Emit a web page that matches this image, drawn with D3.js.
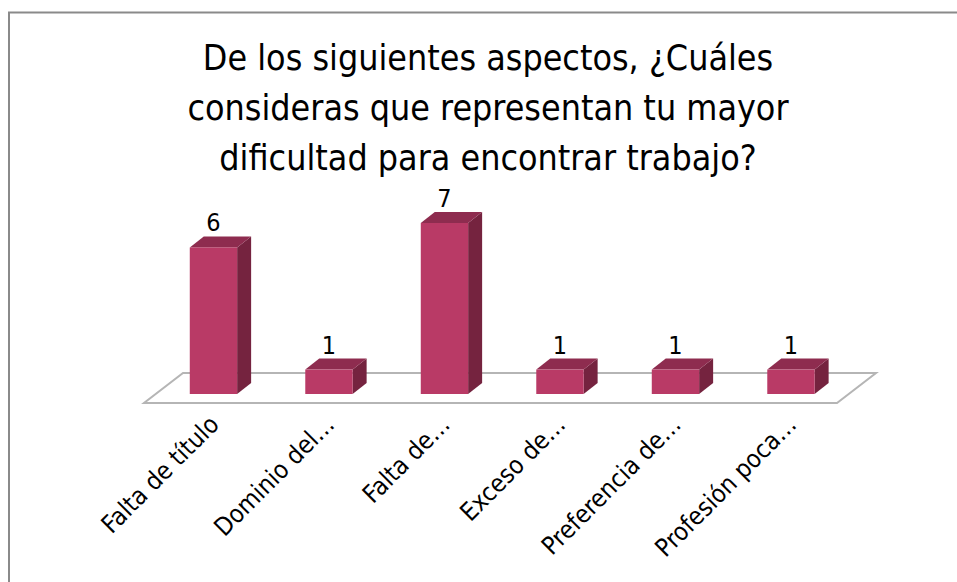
<!DOCTYPE html>
<html>
<head>
<meta charset="utf-8">
<script src="https://cdn.jsdelivr.net/npm/d3@7"></script>
<style>
  body { margin: 0; background: #fff; }
  text { font-family: "DejaVu Sans Condensed", "DejaVu Sans", sans-serif; fill: #000; }
</style>
</head>
<body>
<svg id="chart" width="957" height="582"></svg>
<script>
const titleLines = [
  'De los siguientes aspectos, ¿Cuáles',
  'consideras que representan tu mayor',
  'dificultad para encontrar trabajo?'
];
const categories = ['Falta de título', 'Dominio del…', 'Falta de…', 'Exceso de…', 'Preferencia de…', 'Profesión poca…'];
const values = [6, 1, 7, 1, 1, 1];

const svg = d3.select('#chart');

// outer frame (right and bottom edges fall outside the picture)
svg.append('rect')
  .attr('x', 9).attr('y', 12.5)
  .attr('width', 960).attr('height', 600)
  .attr('fill', 'none')
  .attr('stroke', '#8a8a8a')
  .attr('stroke-width', 2);

svg.append('text')
  .attr('text-anchor', 'middle')
  .attr('font-size', 35.5)
  .selectAll('tspan')
  .data(titleLines)
  .join('tspan')
  .attr('x', 488)
  .attr('y', (d, i) => 70 + i * 50)
  .text(d => d);

// floor geometry
const floorFront = [144, 837];
const floorY = 403;
const floorDepth = [39, -30];
const barShift = 0.3; // bars stand 30% into the floor depth
const barDepth = [14, -11];

const x = d3.scaleBand()
  .domain(categories)
  .range([floorFront[0] + floorDepth[0] * barShift, floorFront[1] + floorDepth[0] * barShift])
  .paddingInner(0.59)
  .paddingOuter(0.295);

const y0 = floorY + floorDepth[1] * barShift;
const y = d3.scaleLinear()
  .domain([0, 7])
  .range([y0, 223]);

const floorPts = [
  [floorFront[0], floorY],
  [floorFront[1], floorY],
  [floorFront[1] + floorDepth[0], floorY + floorDepth[1]],
  [floorFront[0] + floorDepth[0], floorY + floorDepth[1]]
];
svg.append('polygon')
  .attr('points', floorPts.map(p => p.join(',')).join(' '))
  .attr('fill', '#fff')
  .attr('stroke', '#b5b5b5')
  .attr('stroke-width', 2);

const bw = x.bandwidth();
const [dx, dy] = barDepth;

const bars = svg.append('g')
  .selectAll('g')
  .data(values.map((v, i) => ({ c: categories[i], v })))
  .join('g');

// side face
bars.append('polygon')
  .attr('points', d => {
    const x1 = x(d.c) + bw, yt = y(d.v);
    return [[x1, yt], [x1 + dx, yt + dy], [x1 + dx, y0 + dy], [x1, y0]].map(p => p.join(',')).join(' ');
  })
  .attr('fill', '#75233f');

// top face
bars.append('polygon')
  .attr('points', d => {
    const x0 = x(d.c), yt = y(d.v);
    return [[x0, yt], [x0 + dx, yt + dy], [x0 + bw + dx, yt + dy], [x0 + bw, yt]].map(p => p.join(',')).join(' ');
  })
  .attr('fill', '#8e2c4f');

// front face
bars.append('rect')
  .attr('x', d => x(d.c))
  .attr('y', d => y(d.v))
  .attr('width', bw)
  .attr('height', d => y0 - y(d.v))
  .attr('fill', '#b93a66');

bars.append('text')
  .attr('x', d => x(d.c) + bw / 2)
  .attr('y', d => y(d.v) + dy - 5)
  .attr('text-anchor', 'middle')
  .attr('font-size', 25)
  .text(d => d.v);

// category labels
svg.append('g')
  .selectAll('text')
  .data(categories)
  .join('text')
  .attr('transform', d => `translate(${x(d) + bw / 2 + 7},${426}) rotate(-45)`)
  .attr('text-anchor', 'end')
  .attr('font-size', 25)
  .text(d => d);
</script>
</body>
</html>
